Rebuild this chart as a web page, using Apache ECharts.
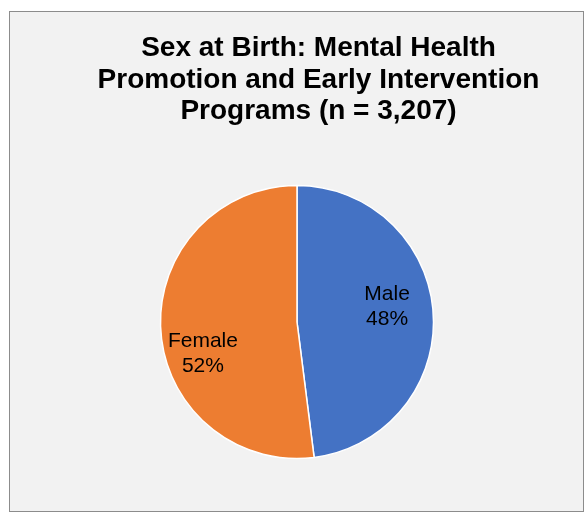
<!DOCTYPE html>
<html>
<head>
<meta charset="utf-8">
<script src="https://cdn.jsdelivr.net/npm/echarts@6/dist/echarts.min.js"></script>
<style>
  html, body { margin: 0; padding: 0; background: #ffffff; }
  #frame {
    position: absolute; left: 9px; top: 11px; width: 573px; height: 499px;
    border: 1px solid #8c8c8c; background: #f2f2f2;
  }
  #chart { width: 573px; height: 499px; }
</style>
</head>
<body>
<div id="frame"><div id="chart"></div></div>
<script>
// Sex at birth breakdown, percent of participants
const categories = ['Male', 'Female'];
const percents = [48, 52];
const colors = ['#4472C4', '#ED7D31'];
const titleText = 'Sex at Birth: Mental Health\nPromotion and Early Intervention\nPrograms (n = 3,207)';

// Nudges that move each slice label from the mid-radius spot
const labelOffsets = [[19, -11], [-23, 27]];

const chart = echarts.init(document.getElementById('chart'), null, { renderer: 'canvas' });

chart.setOption({
  backgroundColor: 'transparent',
  animation: false,
  title: {
    text: titleText,
    left: 303.5,
    top: 16,
    textAlign: 'center',
    textStyle: {
      fontFamily: 'Liberation Sans, Arial, sans-serif',
      fontWeight: 'bold',
      fontSize: 28,
      lineHeight: 31.5,
      color: '#000000'
    }
  },
  series: [{
    type: 'pie',
    center: [287, 310],
    radius: 136.5,
    startAngle: 90,
    clockwise: true,
    silent: true,
    itemStyle: { borderColor: '#ffffff', borderWidth: 1.5 },
    label: {
      show: true,
      position: 'inside',
      formatter: p => p.name + '\n' + p.value + '%',
      fontFamily: 'Liberation Sans, Arial, sans-serif',
      fontSize: 21,
      lineHeight: 25,
      color: '#000000',
      align: 'center'
    },
    labelLine: { show: false },
    data: categories.map((c, i) => ({
      name: c,
      value: percents[i],
      itemStyle: { color: colors[i] },
      label: { offset: labelOffsets[i] }
    }))
  }]
});
</script>
</body>
</html>
